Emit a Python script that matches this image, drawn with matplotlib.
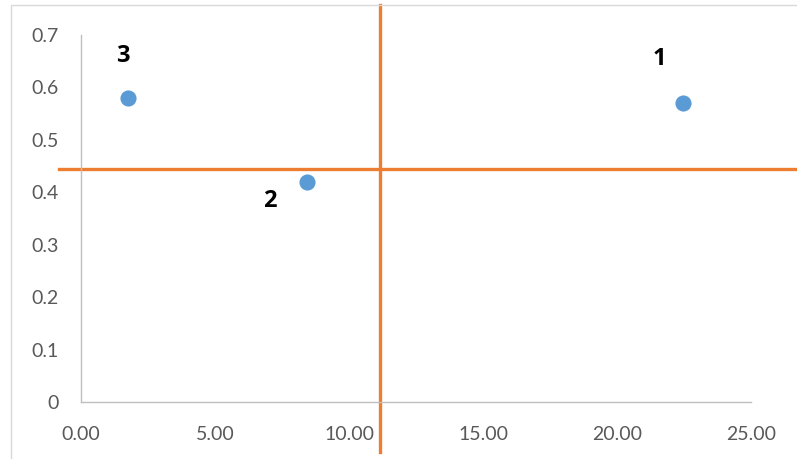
import matplotlib
matplotlib.use("Agg")
import matplotlib.pyplot as plt
from matplotlib.lines import Line2D

# Data
x_vals = [22.46, 8.43, 1.75]
y_vals = [0.57, 0.42, 0.58]
point_labels = ["1", "2", "3"]
label_offsets = [(-17, 32), (-27, -14), (-4, 30)]  # points
x_ticks = [0, 5, 10, 15, 20, 25]
y_ticks = [0, 0.1, 0.2, 0.3, 0.4, 0.5, 0.6, 0.7]
x_tick_labels = ["0.00", "5.00", "10.00", "15.00", "20.00", "25.00"]
y_tick_labels = ["0", "0.1", "0.2", "0.3", "0.4", "0.5", "0.6", "0.7"]
vline_x = 11.16
vline_y_range = [-0.095, 0.757]
hline_y = 0.445
hline_x_range = [-0.82, 28]

plt.rcParams['font.family'] = ['Lato', 'DejaVu Sans']

fig = plt.figure(figsize=(7.97, 4.59), dpi=100)
ax = fig.add_axes([81/797, 1-402/459, (751-81)/797, (402-35)/459])

# chart frame (partially visible)
fx = 11/797
fy = 1 - 5/459
fig.add_artist(Line2D([fx, fx, 1.0], [0.0, fy, fy], transform=fig.transFigure,
                      color="#D9D9D9", lw=1.0))

ax.scatter(x_vals, y_vals, s=135, color="#5B9BD5", zorder=3, linewidths=0)
for xv, yv, lab, off in zip(x_vals, y_vals, point_labels, label_offsets):
    ax.annotate(lab, (xv, yv), xytext=off, textcoords="offset points",
                ha="center", va="center", fontsize=17, fontweight="bold",
                color="black", family=["Open Sans", "DejaVu Sans"])

ax.plot([vline_x, vline_x], vline_y_range, color="#ED7D31", lw=2.4,
        clip_on=False, zorder=2)
ax.plot(hline_x_range, [hline_y, hline_y], color="#ED7D31", lw=2.4,
        clip_on=False, zorder=2)

ax.set_xlim(0, 25)
ax.set_ylim(0, 0.7)
ax.set_xticks(x_ticks)
ax.set_xticklabels(x_tick_labels)
ax.set_yticks(y_ticks)
ax.set_yticklabels(y_tick_labels)
ax.tick_params(axis="both", length=0, labelsize=14, labelcolor="#595959")
ax.tick_params(axis="y", pad=16)
ax.tick_params(axis="x", pad=17)
for s in ["top", "right"]:
    ax.spines[s].set_visible(False)
for s in ["left", "bottom"]:
    ax.spines[s].set_color("#BFBFBF")
    ax.spines[s].set_linewidth(1.0)

fig.savefig("out.png", dpi=100)
